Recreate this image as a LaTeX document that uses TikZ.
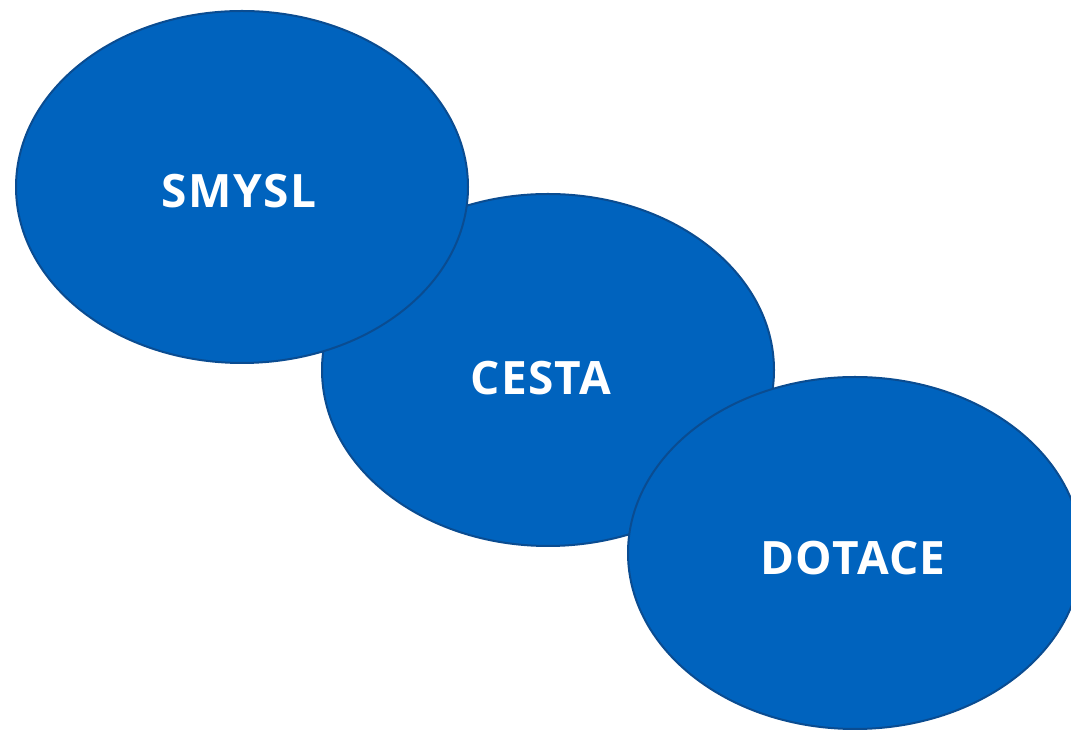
\documentclass[tikz,border=0pt]{standalone}
\usepackage{fontspec}
\setmainfont{Open Sans}
\newfontfamily\blobfont[LetterSpace=3]{Open Sans}
\usetikzlibrary{shapes.geometric}
\definecolor{blobfill}{RGB}{0,99,190}
\definecolor{blobline}{RGB}{10,76,145}
\tikzset{
  blob/.style={ellipse, fill=blobfill, draw=blobline, line width=2pt, inner sep=0pt,
    minimum width=452pt, minimum height=352pt},
  blobtext/.style={text=white, font=\blobfont\bfseries\fontsize{46}{52}\selectfont, inner sep=0pt}
}
\begin{document}
\begin{tikzpicture}[x=1pt,y=1pt]
\path[use as bounding box] (0,0) rectangle (1071,730);
\begin{scope}
\clip (0,0) rectangle (1071,730);
\node[blob] (cesta) at (548,360) {};
\node[blob] (smysl) at (242,543) {};
\node[blob, minimum width=454pt] (dotace) at (855,177) {};
\node[blobtext] (tsmysl) at (239,539) {SMYSL};
\node[blobtext] (tcesta) at (541,352) {CESTA};
\node[blobtext] (tdotace) at (853,172) {DOTACE};
\end{scope}
\end{tikzpicture}
\end{document}
